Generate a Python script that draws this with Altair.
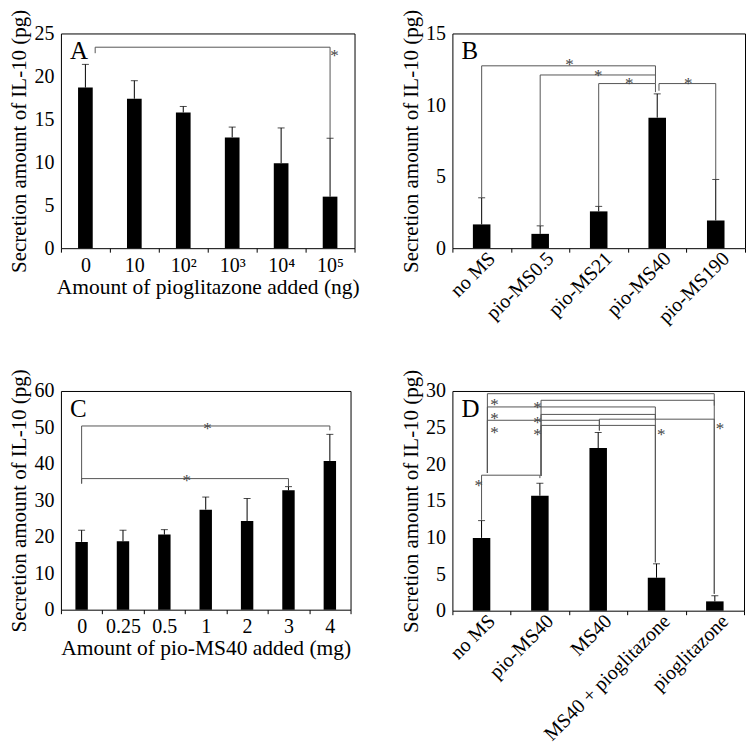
import altair as alt
import pandas as pd

FONT = "Liberation Serif"
YTITLE = "Secretion amount of IL-10 (pg)"

# ---- Panel A ----
A_cats = ["0", "10", "10²", "10³", "10⁴", "10⁵"]
A_vals = [18.7, 17.4, 15.8, 12.9, 9.9, 6.0]
A_errs = [21.4, 19.5, 16.5, 14.1, 14.0, 12.8]
A_brackets = [(0.2, 5.0, 23.4, 22.7, 12.8)]
A_stars = [(5.09, 22.9)]

# ---- Panel B ----
B_cats = ["no MS", "pio-MS0.5", "pio-MS21", "pio-MS40", "pio-MS190"]
B_vals = [1.66, 1.0, 2.57, 9.12, 1.94]
B_errs = [3.52, 1.56, 2.92, 10.78, 4.8]
B_brackets = [(0.0, 2.97, 12.74, 3.52, 12.1),
              (1.0, 2.97, 12.1, 1.56, 11.5),
              (2.0, 2.97, 11.5, 2.92, 10.9),
              (3.03, 4.0, 11.5, 11.0, 4.8)]
B_stars = [(1.5, 13.13), (1.99, 12.39), (2.52, 11.8), (3.53, 11.8)]

# ---- Panel C ----
C_cats = ["0", "0.25", "0.5", "1", "2", "3", "4"]
C_vals = [18.6, 18.75, 20.6, 27.45, 24.3, 32.75, 40.8]
C_errs = [21.8, 21.8, 21.96, 30.9, 30.5, 33.76, 48.1]
C_brackets = [(0.0, 6.0, 50.4, 34.6, 49.2),
              (0.0, 5.0, 35.96, 34.6, 33.9)]
C_stars = [(3.04, 51.05), (2.54, 36.8)]

# ---- Panel D ----
D_cats = ["no MS", "pio-MS40", "MS40", "MS40 + pioglitazone", "pioglitazone"]
D_vals = [9.94, 15.7, 22.2, 4.5, 1.27]
D_errs = [12.3, 17.4, 24.33, 6.4, 2.04]
D_brackets = [(0.1, 3.99, 29.63, 18.8, 2.3),
              (1.02, 3.99, 28.73, 18.4, 28.0),
              (0.1, 2.98, 27.82, 18.8, 6.6),
              (1.02, 2.98, 26.8, 18.4, 26.0),
              (2.02, 3.99, 26.15, 24.6, 2.3),
              (0.1, 2.02, 26.0, 18.8, 24.6),
              (1.02, 2.98, 25.3, 18.4, 6.6),
              (0.0, 1.0, 18.5, 12.4, 18.1)]
D_stars = [(0.22, 28.8), (0.22, 26.9), (0.22, 24.9),
           (0.96, 28.4), (0.96, 26.3), (0.96, 24.7),
           (3.08, 24.7), (4.09, 25.5), (-0.05, 17.7)]


def panel(cats, vals, errs, ymax, ystep, brackets, stars, letter,
          width, height, xtitle, angle):
    n = len(cats)
    df = pd.DataFrame({"cat": cats, "val": vals, "err": errs})
    yscale = alt.Scale(domain=[0, ymax], nice=False, zero=True)
    bscale = alt.Scale(paddingInner=0, paddingOuter=0)
    if angle == 0:
        xaxis = alt.Axis(title=xtitle, labelAngle=0, tickBand="extent", ticks=True,
                         tickSize=4, tickColor="black", domain=False, grid=False,
                         labelFontSize=20, titleFontSize=21.5, labelPadding=3,
                         titlePadding=1, labelFont=FONT, titleFont=FONT,
                         labelColor="black", titleColor="black", titleFontWeight="normal")
    else:
        xaxis = alt.Axis(title=None, labelAngle=angle, labelAlign="right",
                         labelBaseline="middle", tickBand="extent", ticks=True,
                         tickSize=4, tickColor="black", domain=False, grid=False,
                         labelFontSize=20, labelPadding=3, labelOffset=10, labelFont=FONT,
                         labelColor="black", labelLimit=400)
    yaxis = alt.Axis(title=YTITLE, values=list(range(0, ymax + 1, ystep)), grid=False,
                     ticks=False, domain=False, labelFontSize=20, titleFontSize=21,
                     labelPadding=7, titlePadding=4,
                     labelFont=FONT, titleFont=FONT,
                     labelColor="black", titleColor="black", titleFontWeight="normal")
    Y = lambda f: alt.Y(f, scale=yscale, axis=yaxis)

    bars = alt.Chart(df).mark_bar(color="black", width=alt.RelativeBandSize(0.3)).encode(
        x=alt.X("cat:N", sort=cats, scale=bscale, axis=xaxis),
        y=Y("val:Q"),
    )
    erule = alt.Chart(df).mark_rule(color="black", strokeWidth=1).encode(
        x=alt.X("cat:N", sort=cats, scale=bscale, axis=None),
        y=Y("val:Q"),
        y2="err:Q",
    )
    ecap = alt.Chart(df).mark_tick(color="black", thickness=1, size=7).encode(
        x=alt.X("cat:N", sort=cats, scale=bscale, axis=None),
        y=Y("err:Q"),
    )
    segs = []
    for (l, r, lev, lb, rb) in brackets:
        segs.append(dict(x=l, x2=r, y=lev, y2=lev))
        segs.append(dict(x=l, x2=l, y=lev, y2=lb))
        segs.append(dict(x=r, x2=r, y=lev, y2=rb))
    qscale = alt.Scale(domain=[-0.5, n - 0.5], nice=False, zero=False)
    brk = alt.Chart(pd.DataFrame(segs)).mark_rule(color="#555555", strokeWidth=1).encode(
        x=alt.X("x:Q", scale=qscale, axis=None),
        x2="x2:Q",
        y=Y("y:Q"),
        y2="y2:Q",
    )
    sdf = pd.DataFrame({"x": [s[0] for s in stars], "y": [s[1] for s in stars]})
    st = alt.Chart(sdf).mark_text(text="*", font=FONT, fontSize=17, color="#444444",
                                  baseline="middle", dy=5).encode(
        x=alt.X("x:Q", scale=qscale, axis=None),
        y=Y("y:Q"),
    )
    lt = alt.Chart(pd.DataFrame({"t": [letter]})).mark_text(
        font=FONT, fontSize=25, align="left", baseline="alphabetic", color="black"
    ).encode(text="t:N", x=alt.value(9), y=alt.value(26))
    return alt.layer(bars, erule, ecap, brk, st, lt).resolve_scale(x="independent").properties(
        width=width, height=height)


pA = panel(A_cats, A_vals, A_errs, 25, 5, A_brackets, A_stars, "A", 294, 215,
           "Amount of pioglitazone added (ng)", 0)
pB = panel(B_cats, B_vals, B_errs, 15, 5, B_brackets, B_stars, "B", 293, 215, None, -45)
pC = panel(C_cats, C_vals, C_errs, 60, 10, C_brackets, C_stars, "C", 290, 219,
           "Amount of pio-MS40 added (mg)", 0)
pD = panel(D_cats, D_vals, D_errs, 30, 5, D_brackets, D_stars, "D", 292, 220, None, -45)

chart = alt.concat(pA, pB, pC, pD, columns=2, spacing={"row": 143, "column": 98},
                   bounds="flush").properties(
    padding={"left": 0, "top": 0, "right": 0, "bottom": 0},
    background="white",
).configure_view(stroke="black", strokeWidth=1)

chart.save("out.html", embed_options={"renderer": "svg", "actions": False})
